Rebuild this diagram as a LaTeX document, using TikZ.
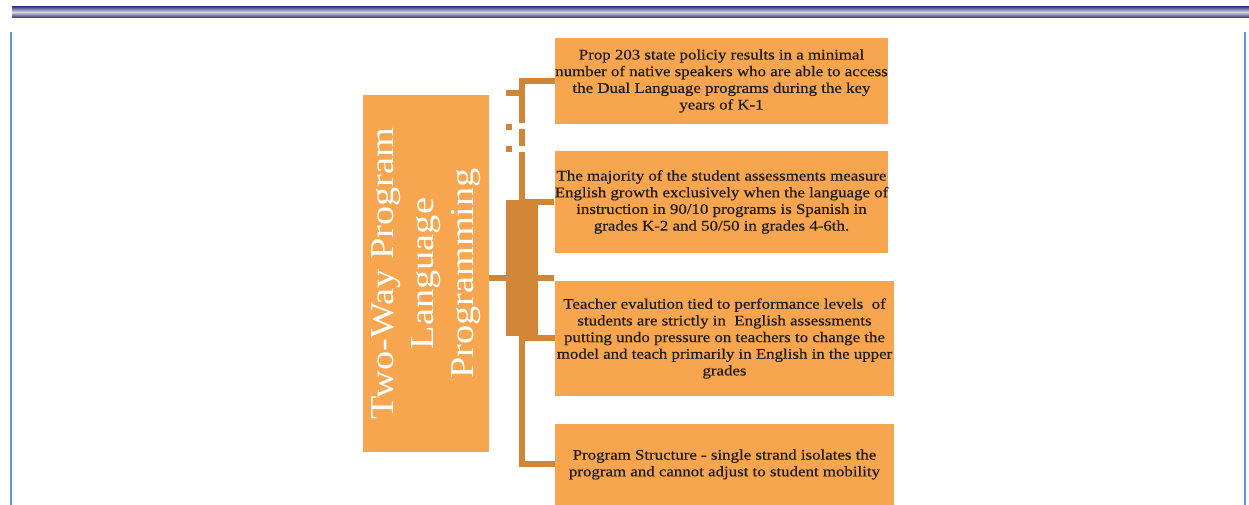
\documentclass[tikz,border=0pt]{standalone}
\usepackage{fontspec}
\setmainfont[FakeStretch=1.15]{Liberation Serif}
\newfontfamily\itemfont[FakeStretch=1.15,FakeBold=0.5]{Liberation Serif}
\usepackage{tikz}
\usepackage{xcolor}
\definecolor{boxorange}{RGB}{247,166,79}
\definecolor{linkorange}{RGB}{208,134,54}
\definecolor{bandnavy}{RGB}{42,42,122}
\definecolor{bandlight}{RGB}{214,214,226}
\definecolor{ruleblue}{RGB}{91,155,213}
\definecolor{itemtext}{RGB}{30,26,22}

\begin{document}
\begin{tikzpicture}[x=0.75pt,y=-0.75pt,
  item/.style={rectangle, fill=boxorange, inner sep=0pt, align=center, text=itemtext, font=\itemfont\fontsize{11}{12.5}\selectfont},
  link/.style={linkorange, line width=4.5pt},
  rule/.style={ruleblue, line width=1.5pt}]
  \useasboundingbox (0,0) rectangle (1249,505);

  % Page decoration: striped header band and side rules
  \foreach \k in {0,...,11}{
    \pgfmathtruncatemacro\mix{100*abs(\k-6)/6}
    \fill[bandnavy!\mix!bandlight] (12,6+\k) rectangle (1249,7+\k);
  }
  \draw[rule] (11,32) -- (11,505);
  \draw[rule] (1245,32) -- (1245,505);

  % Root and the four issues
  \node[rectangle, fill=boxorange, rotate=90, minimum width=267.75pt, minimum height=94.5pt, inner sep=0pt,
        align=center, text=white, font=\fontsize{25}{30}\selectfont] (title) at (426,273.5)
        {Two-Way Program\\Language\\Programming};

  \node[item, minimum width=249.75pt, minimum height=64.5pt] (prop) at (721.5,81)
        {Prop 203 state policiy results in a minimal\\number of native speakers who are able to access\\the Dual Language programs during the key\\years of K-1};
  \node[item, minimum width=249.75pt, minimum height=76.5pt] (assess) at (721.5,202)
        {The majority of the student assessments measure\\English growth exclusively when the language of\\instruction in 90/10 programs is Spanish in\\grades K-2 and 50/50 in grades 4-6th.};
  \node[item, minimum width=254.25pt, minimum height=86.25pt] (teach) at (724.5,338.5)
        {Teacher evalution tied to performance levels\ \ of\\students are strictly in\ \ English assessments\\putting undo pressure on teachers to change the\\model and teach primarily in English in the upper\\grades};
  \node[item, minimum width=254.25pt, minimum height=60.75pt] (strand) at (724.5,464.5)
        {Program Structure - single strand isolates the\\program and cannot adjust to student mobility};

  % Spine and branches
  \coordinate (spine) at (522,0);
  \coordinate (root) at (554,278.5);
  \draw[link] (prop.west) -| (spine |- assess.west) -- (assess.west);
  \fill[white] (518,123) rectangle (526,129);
  \fill[white] (518,146) rectangle (526,152);
  \draw[link] (assess.west -| spine) |- (strand.west);
  \draw[link] (teach.west -| spine) -- (teach.west);
  \draw[link] (title.south |- root) -- (root);

  % stray pieces of the connector
  \fill[linkorange] (506,90) rectangle (522,96);
  \fill[linkorange] (506,124) rectangle (512,130);
  \fill[linkorange] (506,146) rectangle (512,152);
  \fill[linkorange] (506,200) rectangle (538,336);
\end{tikzpicture}
\end{document}
